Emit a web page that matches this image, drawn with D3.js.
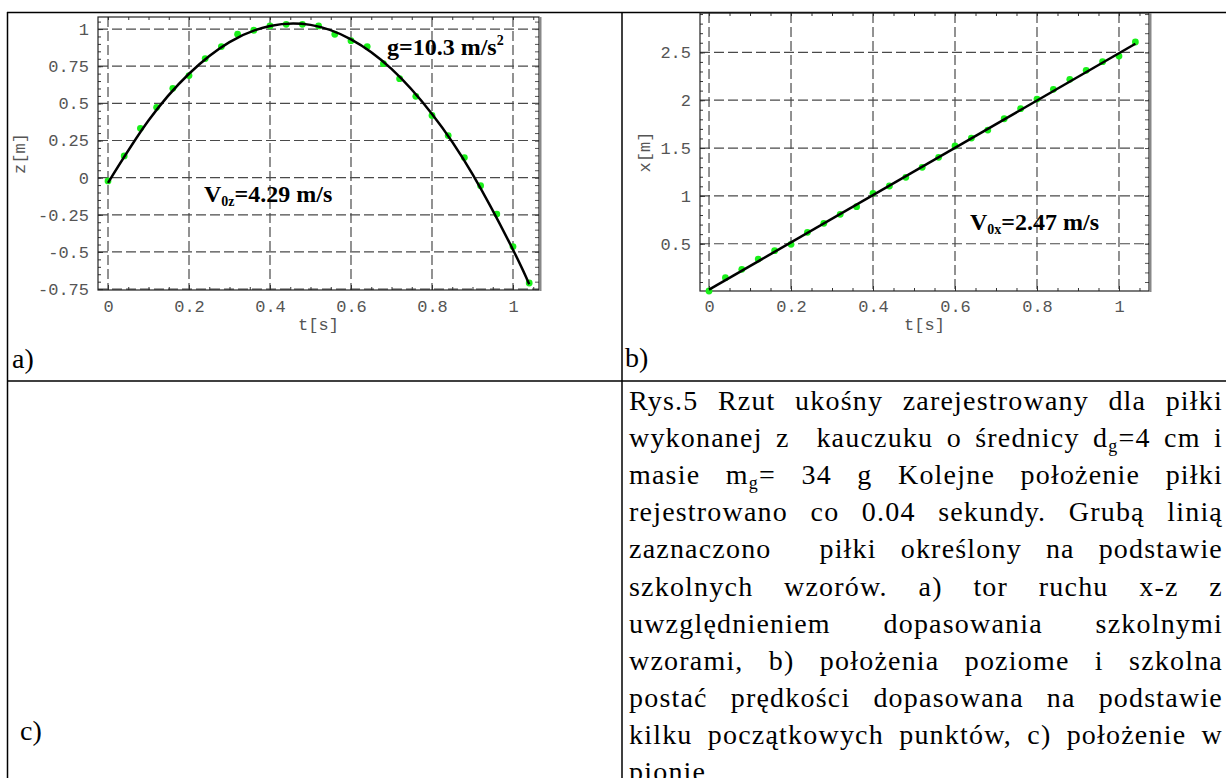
<!DOCTYPE html>
<html>
<head>
<meta charset="utf-8">
<script src="https://cdn.jsdelivr.net/npm/d3@7"></script>
<style>
  body { margin: 0; background: #fff; }
  svg { display: block; }
  .tick text { font-family: "Liberation Mono", "Courier New", monospace; font-size: 17px; fill: #555; }
  .ttl { font-family: "Liberation Mono", "Courier New", monospace; font-size: 17px; fill: #555; }
  .note { font-family: "Liberation Serif", "Times New Roman", serif; font-weight: bold; font-size: 24px; fill: #000; }
  .cap { font-family: "Liberation Serif", "Times New Roman", serif; font-size: 28px; fill: #000; }
</style>
</head>
<body>
<svg id="page" width="1226" height="778"></svg>
<script>
// ball positions, one sample every 0.04 s
const tSamples = [0, 0.04, 0.08, 0.12, 0.16, 0.2, 0.24, 0.28, 0.32, 0.36, 0.4, 0.44, 0.48, 0.52,
  0.56, 0.6, 0.64, 0.68, 0.72, 0.76, 0.8, 0.84, 0.88, 0.92, 0.96, 1.0, 1.04];
const zMeasured = [-0.022, 0.146, 0.332, 0.473, 0.601, 0.687, 0.801, 0.882, 0.965, 0.992, 1.021, 1.032,
  1.032, 1.021, 0.965, 0.922, 0.882, 0.767, 0.666, 0.547, 0.419, 0.283, 0.135, -0.054, -0.245, -0.464, -0.709];
const xMeasured = [0.006, 0.145, 0.233, 0.340, 0.427, 0.494, 0.619, 0.713, 0.807, 0.887, 1.027, 1.103,
  1.194, 1.298, 1.403, 1.521, 1.604, 1.688, 1.806, 1.911, 2.012, 2.113, 2.218, 2.312, 2.402, 2.461, 2.608];

// fitted curves
const tFitZ = [0, 0.1, 0.2, 0.3, 0.4, 0.5, 0.6, 0.7, 0.8, 0.9, 1.0, 1.04];
const zFit = [-0.035, 0.384, 0.699, 0.912, 1.021, 1.028, 0.931, 0.732, 0.429, 0.024, -0.485, -0.717];
const tFitX = [0, 1.04];
const xFit = [0.02, 2.59];

const tTicks = [0, 0.2, 0.4, 0.6, 0.8, 1];
const tTickLabels = ["0", "0.2", "0.4", "0.6", "0.8", "1"];
const zTicks = [-0.75, -0.5, -0.25, 0, 0.25, 0.5, 0.75, 1];
const zTickLabels = ["-0.75", "-0.5", "-0.25", "0", "0.25", "0.5", "0.75", "1"];
const xTicks = [0.5, 1, 1.5, 2, 2.5];
const xTickLabels = ["0.5", "1", "1.5", "2", "2.5"];

// {..} = subscript
const captionLines = [
  "Rys.5 Rzut ukośny zarejestrowany dla piłki",
  "wykonanej z  kauczuku o średnicy d{g}=4 cm i",
  "masie m{g}= 34 g Kolejne położenie piłki",
  "rejestrowano co 0.04 sekundy. Grubą linią",
  "zaznaczono  piłki określony na podstawie",
  "szkolnych wzorów. a) tor ruchu x-z z",
  "uwzględnieniem dopasowania szkolnymi",
  "wzorami, b) położenia poziome i szkolna",
  "postać prędkości dopasowana na podstawie",
  "kilku początkowych punktów, c) położenie w",
  "pionie"
];

const svg = d3.select("#page");

// table rules
svg.append("g").attr("stroke", "#000").attr("stroke-width", 1.5)
  .selectAll("line")
  .data([[7, 12.5, 1226, 12.5], [7.5, 12, 7.5, 778], [622, 12, 622, 778], [7, 381, 1226, 381]])
  .join("line")
  .attr("x1", d => d[0]).attr("y1", d => d[1]).attr("x2", d => d[2]).attr("y2", d => d[3]);

function drawPlot(c) {
  const xs = d3.scaleLinear().domain(c.tDomain).range([c.left, c.right]);
  const ys = d3.scaleLinear().domain(c.vDomain).range([c.bottom, c.top]);
  const g = svg.append("g");

  // dashed grid
  g.append("g").attr("stroke", "#4a4a4a").attr("stroke-width", 1.2).attr("stroke-dasharray", "10,4")
    .call(s => s.selectAll(".v").data(tTicks).join("line")
      .attr("x1", d => xs(d)).attr("x2", d => xs(d)).attr("y1", c.top).attr("y2", c.bottom))
    .call(s => s.selectAll(".h").data(c.vTicks).join("line")
      .attr("x1", c.left).attr("x2", c.right).attr("y1", d => ys(d)).attr("y2", d => ys(d)));

  const noDomain = a => a.select(".domain").remove();
  const tMinor = d3.range(0.05, c.tDomain[1], 0.05);
  const vMinor = d3.range(c.vMinorStart, c.vDomain[1], c.vMinorStep);

  // inward ticks on all four sides
  g.append("g").attr("color", "#333").attr("transform", `translate(0,${c.bottom})`)
    .call(d3.axisBottom(xs).tickValues(tTicks).tickFormat((d, i) => tTickLabels[i]).tickSize(-5).tickPadding(c.padX))
    .call(noDomain);
  g.append("g").attr("color", "#333").attr("transform", `translate(0,${c.bottom})`)
    .call(d3.axisBottom(xs).tickValues(tMinor).tickFormat("").tickSize(-3)).call(noDomain);
  g.append("g").attr("color", "#333").attr("transform", `translate(0,${c.top})`)
    .call(d3.axisTop(xs).tickValues(tTicks.concat(tMinor)).tickFormat("").tickSize(-3)).call(noDomain);
  g.append("g").attr("color", "#333").attr("transform", `translate(${c.left},0)`)
    .call(d3.axisLeft(ys).tickValues(c.vTicks).tickFormat((d, i) => c.vLabels[i]).tickSize(-5).tickPadding(9))
    .call(noDomain);
  g.append("g").attr("color", "#333").attr("transform", `translate(${c.left},0)`)
    .call(d3.axisLeft(ys).tickValues(vMinor).tickFormat("").tickSize(-3)).call(noDomain);
  g.append("g").attr("color", "#555").attr("transform", `translate(${c.right},0)`)
    .call(d3.axisRight(ys).tickValues(c.vTicks.concat(vMinor)).tickFormat("").tickSize(-4)).call(noDomain);

  // frame
  g.append("rect").attr("x", c.left).attr("y", c.top)
    .attr("width", c.right - c.left).attr("height", c.bottom - c.top)
    .attr("fill", "none").attr("stroke", "#222").attr("stroke-width", 1.2);
  g.append("line").attr("x1", c.right + 1.5).attr("x2", c.right + 1.5).attr("y1", c.top).attr("y2", c.bottom + 1)
    .attr("stroke", "#888").attr("stroke-width", 2);

  // measured points
  g.append("g").selectAll("circle").data(tSamples).join("circle")
    .attr("cx", d => xs(d)).attr("cy", (d, i) => ys(c.values[i])).attr("r", 3.4)
    .attr("fill", "#1af01a");

  // fitted line
  const line = d3.line().x(d => xs(d[0])).y(d => ys(d[1])).curve(d3.curveNatural);
  g.append("path").datum(c.fitT.map((t, i) => [t, c.fitV[i]]))
    .attr("d", line).attr("fill", "none").attr("stroke", "#000").attr("stroke-width", 2.5);

  // axis titles
  g.append("text").attr("class", "ttl").attr("text-anchor", "middle")
    .attr("x", (c.left + c.right) / 2).attr("y", 330).text("t[s]");
  g.append("text").attr("class", "ttl").attr("text-anchor", "middle")
    .attr("transform", `translate(${c.yTitleX},${(c.top + c.bottom) / 2}) rotate(-90)`).text(c.yTitle);
  return g;
}

const ga = drawPlot({
  left: 98, right: 539, top: 17, bottom: 290,
  tDomain: [-0.0247, 1.0642], vDomain: [-0.756, 1.081],
  vTicks: zTicks, vLabels: zTickLabels, vMinorStart: -0.7, vMinorStep: 0.05,
  values: zMeasured, fitT: tFitZ, fitV: zFit, padX: 10,
  yTitle: "z[m]", yTitleX: 25
});
const gb = drawPlot({
  left: 700, right: 1149, top: 13, bottom: 291,
  tDomain: [-0.022, 1.0732], vDomain: [0.006, 2.911],
  vTicks: xTicks, vLabels: xTickLabels, vMinorStart: 0.1, vMinorStep: 0.1,
  values: xMeasured, fitT: tFitX, fitV: xFit, padX: 9,
  yTitle: "x[m]", yTitleX: 650
});

// annotations inside the plots
function note(g, x, y, parts) {
  const t = g.append("text").attr("class", "note").attr("x", x).attr("y", y);
  parts.forEach(p => {
    const s = t.append("tspan").text(p.s);
    if (p.fs) s.attr("font-size", p.fs);
    if (p.dy) s.attr("dy", p.dy);
  });
}
note(ga, 204, 202, [{ s: "V" }, { s: "0z", fs: 14, dy: 4 }, { s: "=4.29 m/s", dy: -4 }]);
note(ga, 387, 55, [{ s: "g=10.3 m/s" }, { s: "2", fs: 14, dy: -10 }]);
note(gb, 970, 230, [{ s: "V" }, { s: "0x", fs: 14, dy: 4 }, { s: "=2.47 m/s", dy: -4 }]);

// panel letters
svg.append("text").attr("class", "cap").attr("x", 12).attr("y", 368).text("a)");
svg.append("text").attr("class", "cap").attr("x", 625).attr("y", 367).text("b)");
svg.append("text").attr("class", "cap").attr("x", 20).attr("y", 740).text("c)");

// justified caption; a double space counts as two gaps
const capG = svg.append("g");
const capLeft = 629, capRight = 1223, capTop = 410, capStep = 37.1;
captionLines.forEach((ln, li) => {
  const tokens = ln.split(" ");
  const y = capTop + li * capStep;
  const items = [];
  let pendingGaps = 0;
  tokens.forEach(w => {
    if (!w.length) { pendingGaps += 1; return; }
    const t = capG.append("text").attr("class", "cap").attr("y", y).attr("letter-spacing", 1.2);
    w.split(/(\{[^}]*\})/).filter(p => p.length).forEach((p, k, arr) => {
      if (p[0] === "{") {
        t.append("tspan").attr("font-size", 18).attr("dy", 5).text(p.slice(1, -1));
      } else {
        const s = t.append("tspan").text(p);
        if (k > 0 && arr[k - 1][0] === "{") s.attr("dy", -5);
      }
    });
    items.push({ node: t, gapsBefore: items.length ? 1 + pendingGaps : 0 });
    pendingGaps = 0;
  });
  const widths = items.map(it => it.node.node().getComputedTextLength());
  const nGaps = d3.sum(items, it => it.gapsBefore);
  const last = li === captionLines.length - 1;
  const gap = last || nGaps === 0 ? 8 : (capRight - capLeft - d3.sum(widths)) / nGaps;
  let cx = capLeft;
  items.forEach((it, i) => {
    cx += it.gapsBefore * gap;
    it.node.attr("x", cx);
    cx += widths[i];
  });
});
</script>
</body>
</html>
